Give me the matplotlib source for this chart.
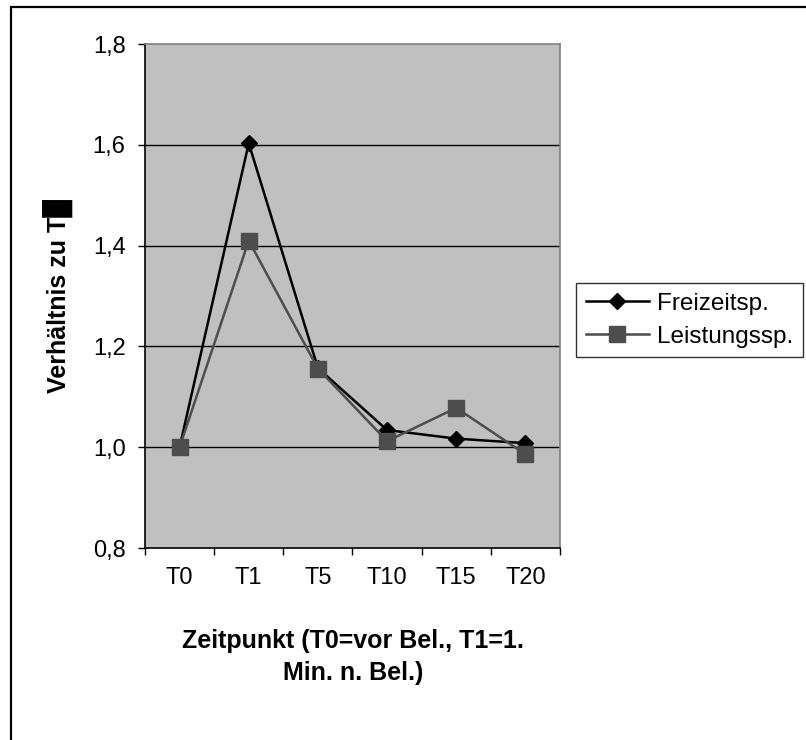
import numpy as np
import matplotlib
matplotlib.use("Agg")
import matplotlib.pyplot as plt
from matplotlib.patches import Rectangle

plt.rcParams['font.family'] = ['Liberation Sans', 'DejaVu Sans']

# data
zeitpunkte = ['T0', 'T1', 'T5', 'T10', 'T15', 'T20']
freizeit = [1.000, 1.603, 1.157, 1.034, 1.017, 1.008]
leistung = [1.000, 1.410, 1.156, 1.012, 1.078, 0.986]
y_ticks = [0.8, 1.0, 1.2, 1.4, 1.6, 1.8]

fig = plt.figure(figsize=(8.06, 7.40), dpi=100)
ax = fig.add_axes([145/806, 1-548/740, 415/806, 504/740])
ax.set_facecolor('#C0C0C0')

x = np.arange(len(zeitpunkte))

for yv in y_ticks[1:-1]:
    ax.axhline(yv, color='black', lw=1, zorder=1)

ax.plot(x, freizeit, color='black', lw=1.8, marker='D', markersize=8.5,
        label='Freizeitsp.', zorder=3)
ax.plot(x, leistung, color='#4D4D4D', lw=1.8, marker='s', markersize=11,
        label='Leistungssp.', zorder=4)

ax.set_xlim(-0.5, len(zeitpunkte) - 0.5)
ax.set_ylim(0.8, 1.8)

# category boundaries get the ticks, labels sit in between
ax.set_xticks(np.arange(-0.5, len(zeitpunkte), 1))
ax.set_xticklabels([])
ax.set_xticks(x, minor=True)
ax.set_xticklabels(zeitpunkte, minor=True, fontsize=17)
ax.tick_params(axis='x', which='major', direction='out', length=5, width=1)
ax.tick_params(axis='x', which='minor', length=0, pad=14)

ax.set_yticks(y_ticks)
ax.set_yticklabels([f"{v:.1f}".replace('.', ',') for v in y_ticks], fontsize=17)
ax.tick_params(axis='y', direction='out', length=5, width=1, pad=9)

ax.spines['left'].set_color('black')
ax.spines['bottom'].set_color('black')
ax.spines['top'].set_color('#808080')
ax.spines['right'].set_color('#808080')
for s in ax.spines.values():
    s.set_linewidth(1.2)

fig.text(58/806, 1-296/740, 'Verhältnis zu T\u2588', rotation=90, ha='center',
         va='center', fontsize=18, fontweight='bold')
fig.text(353/806, 1-657/740, 'Zeitpunkt (T0=vor Bel., T1=1.\nMin. n. Bel.)',
         ha='center', va='center', fontsize=18, fontweight='bold', linespacing=1.45)

leg = fig.legend(loc='upper left', bbox_to_anchor=(576/806, 1-283/740),
                 fontsize=17.5, frameon=True, fancybox=False, handlelength=2.6,
                 handletextpad=0.35, borderpad=0.4, labelspacing=0.45,
                 borderaxespad=0)
leg.get_frame().set_edgecolor('black')
leg.get_frame().set_linewidth(1)

# outer chart border (runs off the right and bottom edges)
fig.patches.append(Rectangle((11/806, -0.05), 1.1, 1.05 - 7/740,
                             transform=fig.transFigure, fill=False,
                             edgecolor='black', lw=1.6))

fig.savefig('out.png', dpi=100)
